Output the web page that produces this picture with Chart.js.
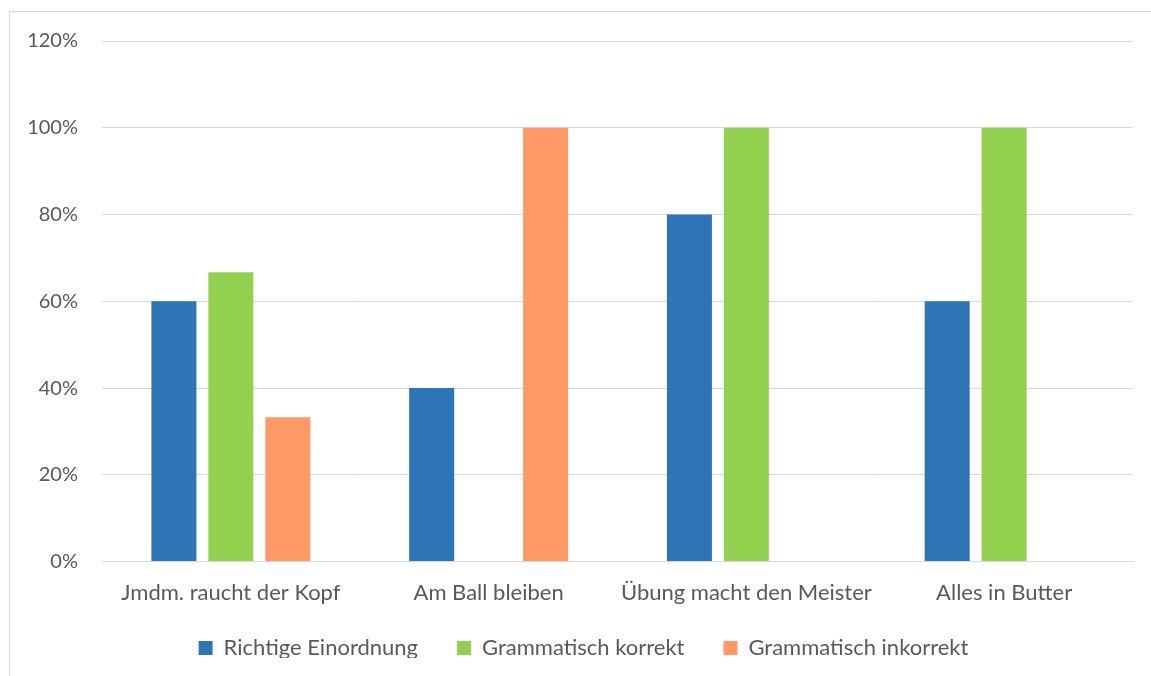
<!DOCTYPE html>
<html>
<head>
<meta charset="utf-8">
<script src="https://cdn.jsdelivr.net/npm/chart.js@4/dist/chart.umd.min.js"></script>
<style>
  html, body { margin: 0; padding: 0; background: #fff; }
  #wrap { position: relative; width: 1151px; height: 676px; overflow: hidden; }
  #frame { position: absolute; left: 9px; top: 11px; width: 1160px; height: 700px; border: 1px solid #d9d9d9; box-sizing: border-box; }
  #c { position: absolute; left: 0; top: 0; }
</style>
</head>
<body>
<div id="wrap">
  <div id="frame"></div>
  <canvas id="c" width="1151" height="676"></canvas>
</div>
<script>
// Kategorien (Redewendungen)
const categories = ["Jmdm. raucht der Kopf", "Am Ball bleiben", "Übung macht den Meister", "Alles in Butter"];

// Anteile in Prozent je Redewendung
const richtigeEinordnung   = [60, 40, 80, 60];
const grammatischKorrekt   = [66.7, 0, 100, 100];
const grammatischInkorrekt = [33.3, 100, 0, 0];

const seriesNames  = ["Richtige Einordnung", "Grammatisch korrekt", "Grammatisch inkorrekt"];
const seriesColors = ["#2E75B6", "#92D050", "#FF9966"];

const yTicks = [0, 20, 40, 60, 80, 100, 120];

const FONT = "Lato, 'Open Sans', sans-serif";
const TEXT = "#595959";

// Legende: feste Höhe und Verschiebung unter der Achse
const LEGEND_HEIGHT = 60;
const LEGEND_DX = 17;
const LEGEND_DY = -18;

const legendPlacement = {
  id: "legendPlacement",
  beforeLayout(chart) {
    const lg = chart.legend;
    if (lg && !lg.$fixedHeight) {
      const fit = lg.fit;
      lg.fit = function () { fit.call(this); this.height = LEGEND_HEIGHT; };
      lg.$fixedHeight = true;
    }
  },
  afterLayout(chart) {
    const lg = chart.legend;
    if (!lg) return;
    lg.left += LEGEND_DX; lg.right += LEGEND_DX;
    lg.top += LEGEND_DY; lg.bottom += LEGEND_DY;
  }
};

const values = [richtigeEinordnung, grammatischKorrekt, grammatischInkorrekt];

new Chart(document.getElementById("c"), {
  type: "bar",
  data: {
    labels: categories,
    datasets: values.map((v, i) => ({
      label: seriesNames[i],
      data: v,
      backgroundColor: seriesColors[i],
      borderWidth: 0,
      categoryPercentage: 0.663,
      barPercentage: 0.79
    }))
  },
  plugins: [legendPlacement],
  options: {
    responsive: false,
    animation: false,
    layout: { padding: { left: 0, right: 18, top: 41, bottom: 0 } },
    plugins: {
      legend: {
        position: "bottom",
        labels: {
          font: { family: FONT, size: 22 },
          color: TEXT,
          boxWidth: 14,
          boxHeight: 14,
          padding: 39
        }
      },
      tooltip: { enabled: false }
    },
    scales: {
      x: {
        grid: { display: false },
        border: { color: "#d9d9d9", width: 1 },
        ticks: { font: { family: FONT, size: 22 }, color: TEXT, padding: 10 }
      },
      y: {
        min: 0,
        max: 120,
        afterBuildTicks: s => { s.ticks = yTicks.map(v => ({ value: v })); },
        afterFit: s => { s.width = 102; },
        grid: { color: "#d9d9d9", lineWidth: 1, drawTicks: false },
        border: { display: false },
        ticks: {
          font: { family: FONT, size: 20 },
          color: TEXT,
          padding: 24,
          callback: v => v + "%"
        }
      }
    }
  }
});
</script>
</body>
</html>
